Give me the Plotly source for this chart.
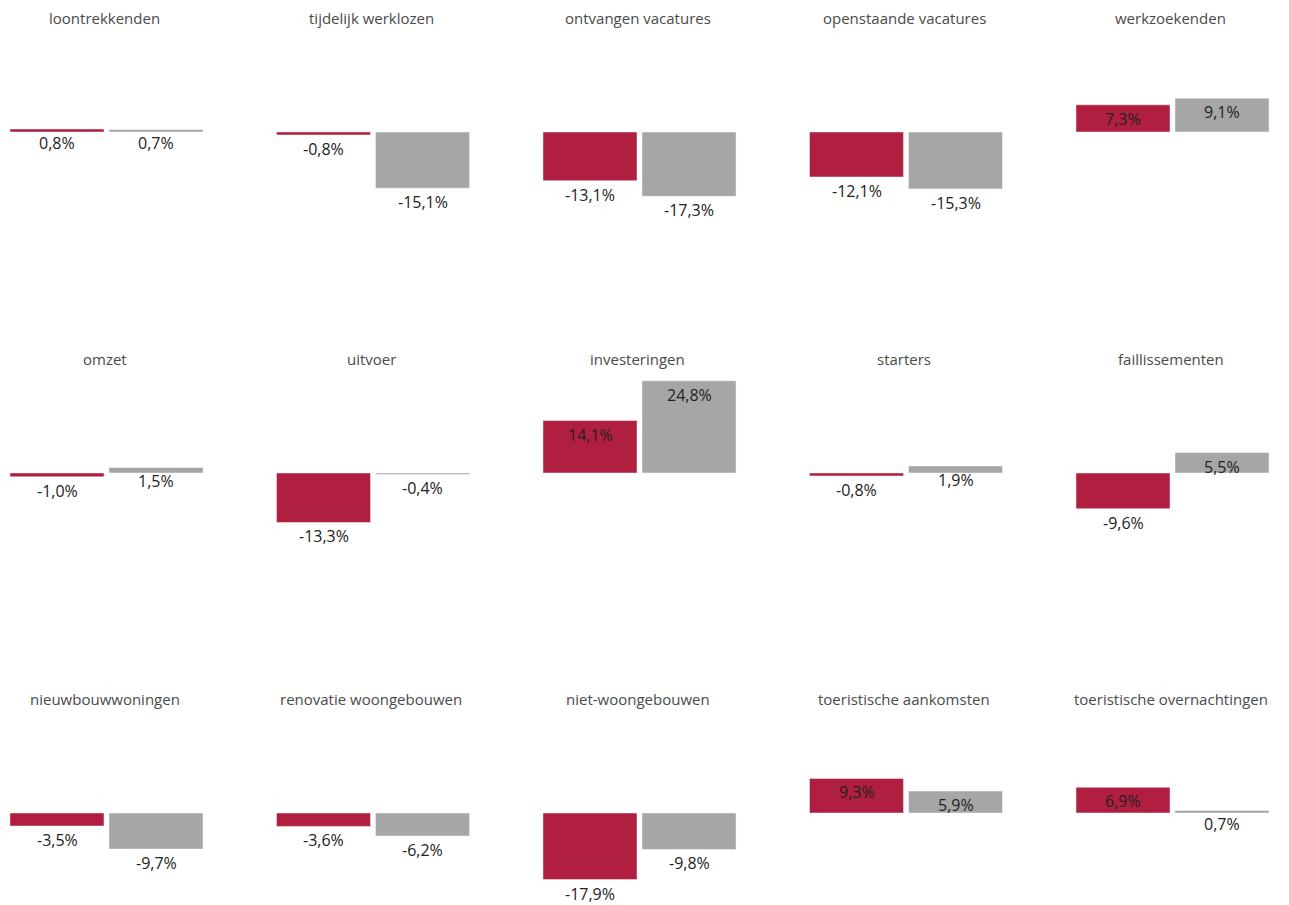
import plotly.graph_objects as go

titles = [
    "loontrekkenden", "tijdelijk werklozen", "ontvangen vacatures", "openstaande vacatures", "werkzoekenden",
    "omzet", "uitvoer", "investeringen", "starters", "faillissementen",
    "nieuwbouwwoningen", "renovatie woongebouwen", "niet-woongebouwen", "toeristische aankomsten", "toeristische overnachtingen",
]
red_values = [0.8, -0.8, -13.1, -12.1, 7.3,
              -1.0, -13.3, 14.1, -0.8, -9.6,
              -3.5, -3.6, -17.9, 9.3, 6.9]
gray_values = [0.7, -15.1, -17.3, -15.3, 9.1,
               1.5, -0.4, 24.8, 1.9, 5.5,
               -9.7, -6.2, -9.8, 5.9, 0.7]
series_keys = ["a", "b"]

W, H = 1289, 905
RED = "#b01f3f"
GRAY = "#a6a6a6"
YMIN, YMAX = -20, 26
PX_PER_UNIT = 3.72
zero_px = [132, 473, 813]
col_x0 = [7.5 + c * 266.5 for c in range(5)]
col_w = 198

def fmt(v):
    return ("%.1f" % v).replace(".", ",") + "%"

fig = go.Figure()
annotations = []
for i, t in enumerate(titles):
    r, c = divmod(i, 5)
    n = i + 1
    xa = "xaxis" if n == 1 else f"xaxis{n}"
    ya = "yaxis" if n == 1 else f"yaxis{n}"
    xr = "x" if n == 1 else f"x{n}"
    yr = "y" if n == 1 else f"y{n}"
    z = zero_px[r]
    top_px = z - YMAX * PX_PER_UNIT
    bot_px = z - YMIN * PX_PER_UNIT
    vals = [red_values[i], gray_values[i]]
    fig.add_trace(go.Bar(
        x=series_keys, y=vals, xaxis=xr, yaxis=yr,
        marker=dict(color=[RED, GRAY], line=dict(color="rgba(255,255,255,0.45)", width=1)),
        showlegend=False, hoverinfo="skip", cliponaxis=False,
    ))
    fig.layout[xa] = dict(domain=[col_x0[c] / W, (col_x0[c] + col_w) / W],
                          range=[-0.5, 1.5], visible=False, fixedrange=True)
    fig.layout[ya] = dict(domain=[max(1 - bot_px / H, 0), 1 - top_px / H],
                          range=[YMIN, YMAX], visible=False, fixedrange=True)
    for k, v in zip(series_keys, vals):
        annotations.append(dict(x=k, y=v, xref=xr, yref=yr, text=fmt(v),
                                showarrow=False, yanchor="top", yshift=-1,
                                font=dict(family="Open Sans", size=16, color="#222222")))
    annotations.append(dict(x=(col_x0[c] + col_w / 2 - 2) / W, y=1 - (z - 114) / H,
                            xref="paper", yref="paper", text=t, showarrow=False,
                            xanchor="center", yanchor="middle",
                            font=dict(family="Open Sans", size=15, color="#4a4a4a")))

fig.update_layout(width=W, height=H, margin=dict(l=0, r=0, t=0, b=0),
                  paper_bgcolor="white", plot_bgcolor="white",
                  bargap=0.05, annotations=annotations)
fig.write_html("out.html", config={"displayModeBar": False},
               post_script="document.body.style.margin='0';document.body.style.overflow='hidden';")
